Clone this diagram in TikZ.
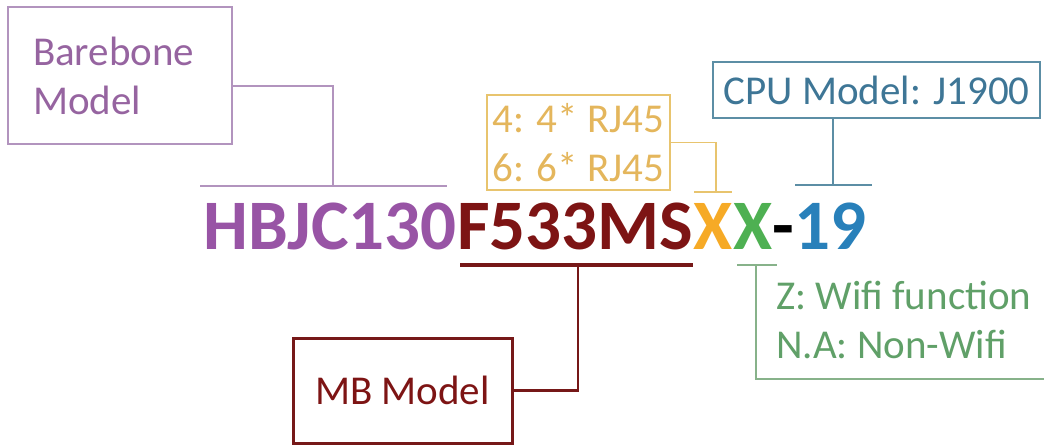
\documentclass[tikz,border=0pt]{standalone}
\usepackage{fontspec}
\setmainfont{Carlito}
\usetikzlibrary{calc}

\definecolor{pcode}{RGB}{152,84,165}
\definecolor{ptext}{RGB}{150,100,160}
\definecolor{pline}{RGB}{178,148,190}
\definecolor{rcode}{RGB}{125,20,20}
\definecolor{rline}{RGB}{118,24,24}
\definecolor{ocode}{RGB}{246,170,38}
\definecolor{otext}{RGB}{228,182,92}
\definecolor{oline}{RGB}{232,196,110}
\definecolor{gcode}{RGB}{78,176,82}
\definecolor{gtext}{RGB}{96,160,104}
\definecolor{gline}{RGB}{135,178,138}
\definecolor{bcode}{RGB}{40,128,186}
\definecolor{btext}{RGB}{62,118,150}
\definecolor{bline}{RGB}{92,142,165}

\tikzset{
  code/.style={font=\fontsize{71}{80}\selectfont\bfseries, anchor=base west, inner sep=0pt},
  lbl/.style={font=\fontsize{41}{49}\selectfont, inner sep=0pt},
}

\begin{document}
\begin{tikzpicture}[x=1pt,y=-1pt]
    \useasboundingbox (0,0) rectangle (1044,446);

    \node[code,pcode] (hbjc) at (203,250) {HBJC130};
    \node[code,rcode] (fms) at (hbjc.base east) {F533MS};
    \node[code,ocode] (xo) at (fms.base east) {X};
    \node[code,gcode] (xg) at (xo.base east) {X};
    \node[code,black] (dash) at (xg.base east) {-};
    \node[code,bcode] (nr) at (dash.base east) {19};

    \node[lbl,ptext,draw=pline,line width=2pt,align=left,text width=174pt,minimum width=224pt,minimum height=137pt] (barebone) at (120,76) {Barebone\\Model};
    \node[lbl,otext,draw=oline,line width=1.5pt,align=left,minimum width=183pt,minimum height=95pt] (rj) at (578.5,142.5) {4: 4* RJ45\\6: 6* RJ45};
    \node[lbl,btext,draw=bline,line width=2pt,minimum width=327pt,minimum height=56pt] (cpu) at (876.5,90) {CPU Model: J1900};
    \node[lbl,rcode,draw=rline,line width=3pt,minimum width=219pt,minimum height=105pt] (mbm) at (402.5,390.5) {MB Model};
    \node[lbl,gtext,align=left,anchor=west] (wifi) at (776,320) {Z: Wifi function\\N.A: Non-Wifi};

    \coordinate (pbar) at (333,186);
    \coordinate (obar) at (716,192);
    \coordinate (cbar) at (833,185);
    \coordinate (rbar) at (578,265);
    \coordinate (gbar) at (756,265);
    \coordinate (gend) at (1044,379);

    \draw[pline,line width=2.5pt] (200,186) -- (447,186);
    \draw[pline,line width=2pt] ([yshift=-10pt]barebone.east) -| (pbar);
    \draw[oline,line width=1.5pt] (694,192) -- (732,192);
    \draw[oline,line width=1.5pt] (rj.east) -| (obar);
    \draw[bline,line width=2.5pt] (795,185) -- (872,185);
    \draw[bline,line width=2pt] (cpu.south -| cbar) -- (cbar);
    \draw[rline,line width=4pt] (460,265) -- (693,265);
    \draw[rline,line width=2.5pt] (mbm.east) -| (rbar);
    \draw[gline,line width=2pt] (737,265) -- (777,265);
    \draw[gline,line width=1.5pt] (gbar) |- (gend);
\end{tikzpicture}
\end{document}
